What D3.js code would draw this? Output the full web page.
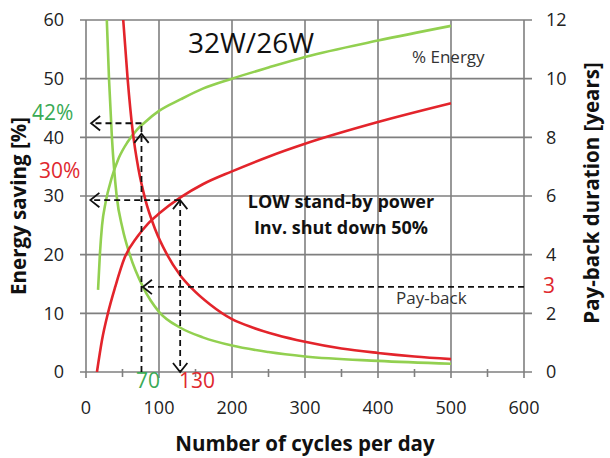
<!DOCTYPE html>
<html lang="en">
<head>
    <meta charset="UTF-8">
    <title>32W/26W pay-back</title>
    <script src="https://cdn.jsdelivr.net/npm/d3@7"></script>
    <style>
        body { margin: 0; background: #fff; }
        text { font-family: "Open Sans", sans-serif; }
    </style>
</head>
<body>
    <div id="chart"></div>

    <script>
        // [cycles per day, value]
        const savingGreen = [[16.5,14],[19,20],[22,25],[27,29],[35,33],[45,36.5],[57,39.2],[70,41.3],[80,42.5],[100,44.5],[130,46.5],[160,48.3],[200,50],[250,51.9],[300,53.7],[400,56.5],[500,59]];
        const savingRed = [[15,0],[22,5.5],[30,10],[40,14.5],[53,19.5],[70,23],[85,25.3],[100,27],[130,29.8],[160,32],[200,34.2],[250,36.7],[300,38.9],[400,42.6],[500,45.8]];
        const paybackGreen = [[28.5,12],[31.5,10],[35.5,8],[42,6],[50,4.9],[60,4],[78,2.9],[100,2.05],[130,1.5],[160,1.18],[200,0.9],[250,0.68],[300,0.53],[400,0.38],[500,0.28]];
        const paybackRed = [[51,12],[57,10],[64,8.2],[72,6.9],[81,5.9],[95,4.85],[110,4.05],[129,3.3],[145,2.85],[170,2.3],[200,1.8],[230,1.5],[260,1.27],[300,1.03],[350,0.8],[400,0.65],[450,0.53],[500,0.44]];

        const xTicks = [0, 100, 200, 300, 400, 500, 600];
        const xMinor = [50, 150, 250, 350, 450, 550];
        const leftTicks = [0, 10, 20, 30, 40, 50, 60];
        const rightTicks = [0, 2, 4, 6, 8, 10, 12];

        const width = 610;
        const height = 458;
        const marginLeft = 86;
        const marginRight = 86;
        const marginTop = 20;
        const marginBottom = 86;

        const green = "#92d050";
        const red = "#e3242b";
        const greenText = "#3aaa55";
        const redText = "#e0282e";
        const grid = "#7f7f7f";

        const x = d3.scaleLinear().domain([0, 600]).range([marginLeft, width - marginRight]);
        const y = d3.scaleLinear().domain([0, 60]).range([height - marginBottom, marginTop]);
        const y2 = d3.scaleLinear().domain([0, 12]).range([height - marginBottom, marginTop]);

        const svg = d3.select("#chart").append("svg")
            .attr("width", width)
            .attr("height", height);

        svg.append("defs").append("clipPath").attr("id", "plot")
            .append("rect")
            .attr("x", x(0)).attr("y", y(60))
            .attr("width", x(600) - x(0)).attr("height", y(0) - y(60));

        // grid + ticks
        const g = svg.append("g").attr("stroke", grid).attr("stroke-width", 1.6);
        g.selectAll(".vg").data(xTicks).join("line")
            .attr("x1", d => x(d)).attr("x2", d => x(d))
            .attr("y1", y(60)).attr("y2", y(0) + 6);
        g.selectAll(".mn").data(xMinor).join("line")
            .attr("class", "mn")
            .attr("x1", d => x(d)).attr("x2", d => x(d))
            .attr("y1", y(0) - 3).attr("y2", y(0) + 5);
        g.selectAll(".hg").data(leftTicks).join("line")
            .attr("class", "hg")
            .attr("x1", x(0) - 6).attr("x2", x(600) + 8)
            .attr("y1", d => y(d)).attr("y2", d => y(d));

        // tick labels
        svg.append("g").selectAll("text").data(xTicks).join("text")
            .attr("x", d => x(d)).attr("y", 414)
            .attr("text-anchor", "middle").attr("font-size", 18).attr("fill", "#222")
            .text(d => d);
        svg.append("g").selectAll("text").data(leftTicks).join("text")
            .attr("x", 64).attr("y", d => y(d)).attr("dy", "0.35em")
            .attr("text-anchor", "end").attr("font-size", 18).attr("fill", "#222")
            .text(d => d);
        svg.append("g").selectAll("text").data(rightTicks).join("text")
            .attr("x", 546).attr("y", d => y2(d)).attr("dy", "0.35em")
            .attr("font-size", 18).attr("fill", "#222")
            .text(d => d);

        // axis titles
        svg.append("text")
            .attr("x", 305).attr("y", 451)
            .attr("text-anchor", "middle").attr("font-size", 20.5).attr("font-weight", "bold").attr("fill", "#111")
            .text("Number of cycles per day");
        svg.append("text")
            .attr("transform", "translate(26,206) rotate(-90)")
            .attr("text-anchor", "middle").attr("font-size", 20.5).attr("font-weight", "bold").attr("fill", "#111")
            .text("Energy saving [%]");
        svg.append("text")
            .attr("transform", "translate(599,193) rotate(-90)")
            .attr("text-anchor", "middle").attr("font-size", 20.5).attr("font-weight", "bold").attr("fill", "#111")
            .text("Pay-back duration [years]");

        // curves
        const lineL = d3.line().x(d => x(d[0])).y(d => y(d[1])).curve(d3.curveMonotoneX);
        const lineR = d3.line().x(d => x(d[0])).y(d => y2(d[1])).curve(d3.curveMonotoneX);
        const curves = svg.append("g").attr("clip-path", "url(#plot)")
            .attr("fill", "none").attr("stroke-width", 2.6);
        curves.append("path").datum(savingGreen).attr("stroke", green).attr("d", lineL);
        curves.append("path").datum(paybackGreen).attr("stroke", green).attr("d", lineR);
        curves.append("path").datum(savingRed).attr("stroke", red).attr("d", lineL);
        curves.append("path").datum(paybackRed).attr("stroke", red).attr("d", lineR);

        // dashed arrows
        const arr = svg.append("g").attr("fill", "none").attr("stroke", "#111").attr("stroke-width", 1.8);
        const dash = "6,4";
        function seg(x1, y1, x2, y2) {
            arr.append("line").attr("x1", x1).attr("y1", y1).attr("x2", x2).attr("y2", y2)
                .attr("stroke-dasharray", dash);
        }
        function head(px, py, dir) {
            const s = 9;
            const pts = {
                left: [[px + s, py - s * 0.8], [px, py], [px + s, py + s * 0.8]],
                up: [[px - s * 0.8, py + s], [px, py], [px + s * 0.8, py + s]],
                down: [[px - s * 0.8, py - s], [px, py], [px + s * 0.8, py - s]]
            }[dir];
            arr.append("path").attr("d", d3.line()(pts));
        }
        // 70 -> 42%
        seg(x(76), y(0), x(76), y(42.4));
        seg(x(76), y(42.4), x(7), y(42.4));
        head(x(76), y(40.6), "up");
        head(x(7), y(42.4), "left");
        // 130 -> 30%
        seg(x(129), y(29.3), x(129), y(0));
        seg(x(129), y(29.3), x(6), y(29.3));
        head(x(129), y(29.3), "up");
        head(x(129), y(0), "down");
        head(x(6), y(29.3), "left");
        // pay-back 3 years
        seg(x(600), y2(2.9), x(78), y2(2.9));
        head(x(78), y2(2.9), "left");

        // annotations
        svg.append("text").attr("x", 188).attr("y", 53)
            .attr("font-size", 28).attr("fill", "#111").text("32W/26W");
        svg.append("text").attr("x", 412).attr("y", 63)
            .attr("font-size", 17).attr("fill", "#333").text("% Energy");
        svg.append("text").attr("x", 341).attr("y", 208)
            .attr("text-anchor", "middle").attr("font-size", 18).attr("font-weight", "bold").attr("fill", "#111")
            .text("LOW stand-by power");
        svg.append("text").attr("x", 341).attr("y", 234)
            .attr("text-anchor", "middle").attr("font-size", 18).attr("font-weight", "bold").attr("fill", "#111")
            .text("Inv. shut down 50%");
        svg.append("text").attr("x", 396).attr("y", 304)
            .attr("font-size", 17).attr("fill", "#333").text("Pay-back");

        svg.append("text").attr("x", 32).attr("y", 120)
            .attr("font-size", 21).attr("fill", greenText).text("42%");
        svg.append("text").attr("x", 39).attr("y", 178)
            .attr("font-size", 21).attr("fill", redText).text("30%");
        svg.append("text").attr("x", 543).attr("y", 293)
            .attr("font-size", 21).attr("fill", redText).text("3");
        svg.append("text").attr("x", 148).attr("y", 388)
            .attr("text-anchor", "middle").attr("font-size", 21).attr("fill", greenText).text("70");
        svg.append("text").attr("x", 197).attr("y", 388)
            .attr("text-anchor", "middle").attr("font-size", 21).attr("fill", redText).text("130");
    </script>
</body>
</html>
